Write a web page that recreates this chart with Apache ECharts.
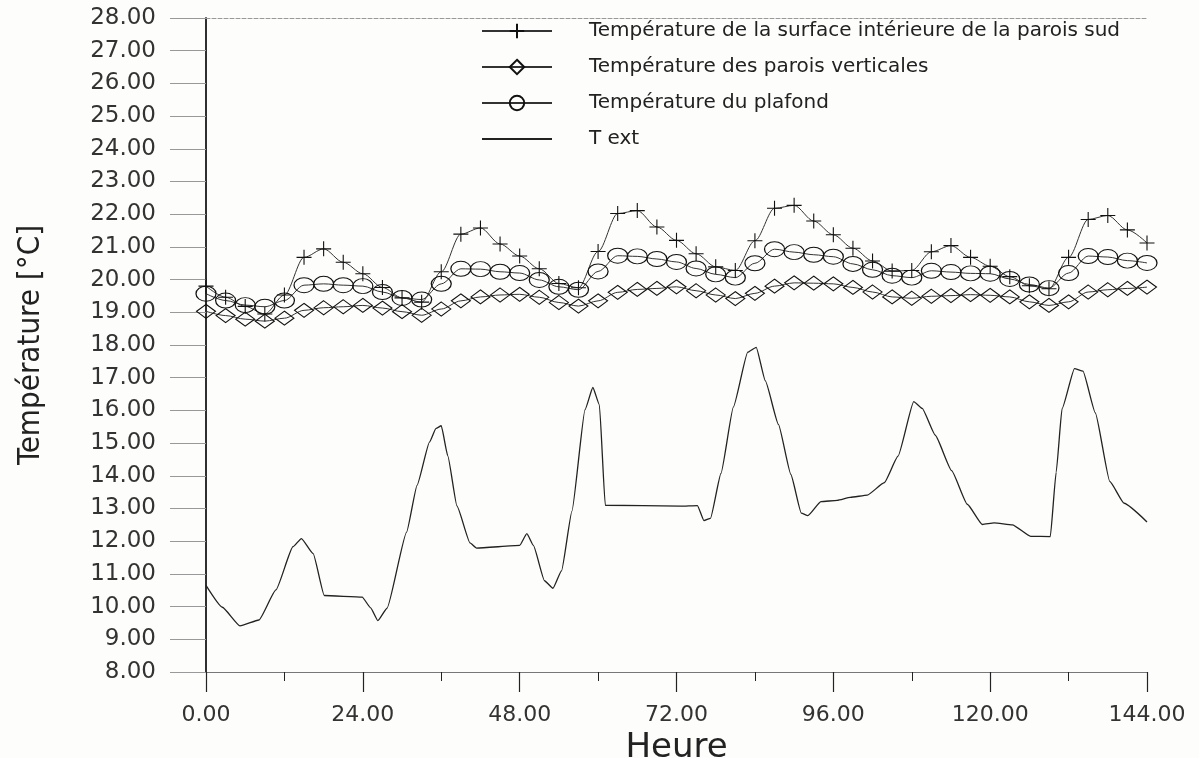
<!DOCTYPE html>
<html>
<head>
<meta charset="utf-8">
<title>Température</title>
<script src="https://cdn.jsdelivr.net/npm/echarts@6/dist/echarts.min.js"></script>
<style>
html, body { margin: 0; padding: 0; background: #fdfdfc; }
#main { width: 1199px; height: 758px; }
</style>
</head>
<body>
<div id="main"></div>
<script type="text/javascript">
// heures des points (pas de 3 h)
var hours = [0, 3, 6, 9, 12, 15, 18, 21, 24, 27, 30, 33, 36, 39, 42, 45, 48, 51, 54, 57, 60, 63, 66, 69, 72,
	75, 78, 81, 84, 87, 90, 93, 96, 99, 102, 105, 108, 111, 114, 117, 120, 123, 126, 129, 132, 135, 138, 141, 144];

// surface interieure de la paroi sud (+)
var sudValues = [19.80, 19.46, 19.18, 18.95, 19.53, 20.68, 20.94, 20.53, 20.18, 19.76, 19.44, 19.31, 20.24, 21.39, 21.58, 21.09, 20.72, 20.33, 19.88, 19.75, 20.86, 22.02, 22.11, 21.61, 21.20,
	20.79, 20.39, 20.28, 21.19, 22.18, 22.27, 21.79, 21.37, 20.96, 20.57, 20.26, 20.28, 20.85, 21.04, 20.68, 20.41, 20.09, 19.81, 19.72, 20.68, 21.84, 21.96, 21.52, 21.12];

// parois verticales (losange)
var verticalesValues = [19.03, 18.90, 18.79, 18.73, 18.82, 19.06, 19.14, 19.17, 19.21, 19.13, 19.02, 18.91, 19.10, 19.35, 19.47, 19.53, 19.55, 19.46, 19.30, 19.19, 19.35, 19.61, 19.70, 19.73, 19.78,
	19.66, 19.53, 19.42, 19.58, 19.80, 19.90, 19.89, 19.87, 19.76, 19.62, 19.47, 19.43, 19.49, 19.51, 19.54, 19.52, 19.47, 19.32, 19.21, 19.32, 19.62, 19.69, 19.73, 19.77];

// plafond (cercle)
var plafondValues = [19.57, 19.36, 19.22, 19.17, 19.36, 19.83, 19.87, 19.83, 19.80, 19.62, 19.44, 19.39, 19.87, 20.33, 20.32, 20.24, 20.20, 19.99, 19.78, 19.69, 20.25, 20.73, 20.71, 20.63, 20.54,
	20.34, 20.16, 20.06, 20.50, 20.93, 20.84, 20.76, 20.70, 20.48, 20.30, 20.12, 20.06, 20.27, 20.23, 20.19, 20.18, 20.02, 19.85, 19.74, 20.20, 20.72, 20.69, 20.58, 20.51];

// temperature exterieure
var extHours = [0, 2.5, 5.2, 8.1, 10.7, 13.3, 14.6, 16.4, 18.1, 23.9, 25.2, 26.3, 27.7, 30.7, 32.3, 34.2, 35.2, 36.0, 37.0, 38.4,
	40.4, 41.4, 48.0, 49.1, 50.1, 51.8, 53.1, 54.4, 56.0, 58.0, 59.2, 60.2, 61.1, 72.6, 75.2, 76.2, 77.2, 78.8, 80.7, 82.9,
	84.2, 85.6, 87.6, 89.5, 91.1, 92.1, 94.1, 96.6, 98.6, 101.2, 103.8, 105.9, 108.3, 109.6, 111.6, 114.1, 116.5, 118.8, 120.6, 123.4,
	126.2, 129.2, 130.1, 131.0, 132.9, 134.2, 136.1, 138.3, 140.5, 144];
var extValues = [10.65, 9.98, 9.41, 9.59, 10.51, 11.83, 12.08, 11.62, 10.34, 10.29, 9.96, 9.57, 9.95, 12.28, 13.71, 15.03, 15.45, 15.53, 14.61, 13.08,
	11.95, 11.79, 11.87, 12.23, 11.87, 10.79, 10.56, 11.09, 12.92, 16.02, 16.70, 16.17, 13.10, 13.07, 13.09, 12.63, 12.70, 14.07, 16.10, 17.78,
	17.93, 16.90, 15.57, 14.04, 12.86, 12.78, 13.21, 13.25, 13.34, 13.41, 13.79, 14.60, 16.27, 16.06, 15.24, 14.16, 13.13, 12.51, 12.56, 12.50,
	12.15, 12.14, 14.11, 16.05, 17.28, 17.20, 15.92, 13.83, 13.16, 12.59];

var seriesNames = [
	'Température de la surface intérieure de la parois sud',
	'Température des parois verticales',
	'Température du plafond',
	'T ext'
];

function pairs(xs, ys) {
	var out = [];
	for (var i = 0; i < xs.length; i++) {
		out.push([xs[i], ys[i]]);
	}
	return out;
}

var ink = '#222';
var fontMain = 'DejaVu Sans, Liberation Sans, sans-serif';
var markStyle = { color: 'rgba(0,0,0,0)', borderColor: '#111', borderWidth: 1.1 };

var myChart = echarts.init(document.getElementById('main'));
myChart.setOption({
	backgroundColor: '#fdfdfc',
	animation: false,
	grid: { left: 206, right: 52, top: 18, bottom: 86, outerBoundsMode: 'none' },
	legend: {
		orient: 'vertical',
		left: 476,
		top: 16,
		itemWidth: 70,
		itemHeight: 18,
		itemGap: 16,
		selectedMode: false,
		textStyle: { fontSize: 20, color: ink, fontFamily: fontMain, padding: [0, 0, 0, 32] },
		data: [
			seriesNames[0],
			seriesNames[1],
			seriesNames[2],
			{ name: seriesNames[3], itemStyle: { color: 'rgba(0,0,0,0)', borderWidth: 0 } }
		]
	},
	xAxis: [{
		type: 'value',
		min: 0,
		max: 144,
		interval: 24,
		axisLine: { lineStyle: { color: '#777', width: 1 } },
		axisTick: { show: true, length: 20, lineStyle: { color: ink, width: 1.2 } },
		minorTick: { show: true, splitNumber: 2, length: 9, lineStyle: { color: ink, width: 1 } },
		splitLine: { show: false },
		axisLabel: {
			margin: 32, fontSize: 22, color: '#333', fontFamily: fontMain,
			formatter: function (v) { return v.toFixed(2); }
		},
		name: 'Heure',
		nameLocation: 'middle',
		nameGap: 56,
		nameTextStyle: { fontSize: 34, color: ink, fontFamily: fontMain }
	}, {
		type: 'value',
		position: 'top',
		min: 0,
		max: 144,
		axisLine: { show: true, lineStyle: { color: '#999', type: 'dashed', width: 1 } },
		axisTick: { show: false },
		axisLabel: { show: false },
		splitLine: { show: false }
	}],
	yAxis: [{
		type: 'value',
		min: 8,
		max: 28,
		interval: 1,
		axisLine: { show: true, lineStyle: { color: ink, width: 1.5 } },
		axisTick: { show: true, length: 36, lineStyle: { color: '#999', width: 1 } },
		splitLine: { show: false },
		axisLabel: {
			margin: 50, fontSize: 23, color: '#333', fontFamily: fontMain,
			formatter: function (v) { return v.toFixed(2); }
		},
		name: 'Température [°C]',
		nameLocation: 'middle',
		nameGap: 160,
		nameTextStyle: { fontSize: 31, color: ink, fontFamily: 'Liberation Sans Narrow, DejaVu Sans Condensed, sans-serif' }
	}, {
		type: 'value',
		position: 'right',
		min: 8,
		max: 28,
		axisLine: { show: true, lineStyle: { color: ink, width: 1.5 } },
		axisTick: { show: false },
		axisLabel: { show: false },
		splitLine: { show: false }
	}],
	series: [{
		name: seriesNames[0],
		type: 'line',
		data: pairs(hours, sudValues),
		smooth: 0.3,
		smoothMonotone: 'x',
		symbol: 'path://M0,8L16,8M8,0L8,16',
		symbolSize: 15,
		lineStyle: { color: '#333', width: 1 },
		itemStyle: markStyle,
		emphasis: { disabled: true }
	}, {
		name: seriesNames[1],
		type: 'line',
		data: pairs(hours, verticalesValues),
		smooth: 0.3,
		smoothMonotone: 'x',
		symbol: 'diamond',
		symbolSize: [19, 14],
		lineStyle: { color: '#333', width: 1 },
		itemStyle: markStyle,
		emphasis: { disabled: true }
	}, {
		name: seriesNames[2],
		type: 'line',
		data: pairs(hours, plafondValues),
		smooth: 0.3,
		smoothMonotone: 'x',
		symbol: 'circle',
		symbolSize: [20, 15],
		lineStyle: { color: '#333', width: 1 },
		itemStyle: markStyle,
		emphasis: { disabled: true }
	}, {
		name: seriesNames[3],
		type: 'line',
		data: pairs(extHours, extValues),
		smooth: 0.15,
		smoothMonotone: 'x',
		symbol: 'none',
		lineStyle: { color: ink, width: 1.3 },
		itemStyle: { color: ink },
		emphasis: { disabled: true }
	}]
});
</script>
</body>
</html>
